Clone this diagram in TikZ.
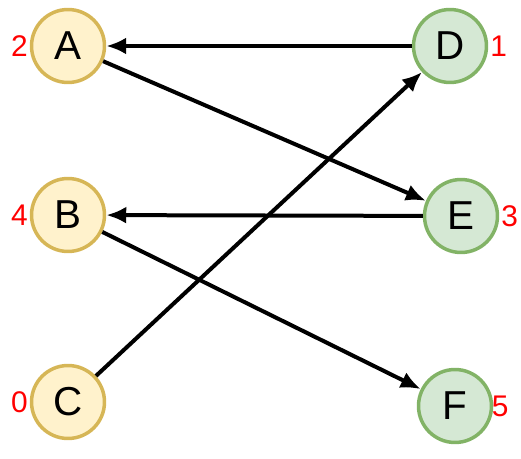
\documentclass[tikz,border=0pt]{standalone}
\usepackage{fontspec}
\setmainfont{Liberation Sans}
\usetikzlibrary{arrows.meta,positioning}
\definecolor{ylwfill}{HTML}{FFF2CC}
\definecolor{ylwdraw}{HTML}{D6B656}
\definecolor{grnfill}{HTML}{D5E8D4}
\definecolor{grndraw}{HTML}{82B366}

\begin{document}
\begin{tikzpicture}
[x=0.02cm,y=-0.02cm,
L/.style={draw=ylwdraw,fill=ylwfill,circle,line width=0.07cm,minimum size=1.46cm,inner sep=0pt,font=\fontsize{23}{25}\selectfont},
R/.style={draw=grndraw,fill=grnfill,circle,line width=0.07cm,minimum size=1.46cm,inner sep=0pt,font=\fontsize{23}{25}\selectfont},
num/.style={text=red,font=\fontsize{17}{19}\selectfont,inner sep=1pt},
dedge/.style={black,line width=0.08cm,-{Latex[length=0.4cm,width=0.34cm]}}]
\useasboundingbox (0,0) rectangle (521,459);
%%
%%%%%%%%%%%%%%%%%%
% left side
%%%%%%%%%%%%%%%%%%
\node[L,label={[num]left:2}] (a) at (68,46) {A};
\node[L,label={[num]left:4}] (b) at (68,215) {B};
\node[L,label={[num]left:0}] (c) at (68,402) {C};
%%
%%%%%%%%%%%%%%%%%%
% right side
%%%%%%%%%%%%%%%%%%
\node[R,label={[num]right:1}] (d) at (450,46) {D};
\node[R,label={[num]right:3}] (e) at (461,216) {E};
\node[R,label={[num,label distance=-2pt]right:5}] (f) at (455,406) {F};
%%
%% edges
\draw[dedge] (d) -- (a);
\draw[dedge] (a) -- (e);
\draw[dedge] (e) -- (b);
\draw[dedge] (b) -- (f);
\draw[dedge] (c) -- (d);
%%
\end{tikzpicture}
\end{document}
